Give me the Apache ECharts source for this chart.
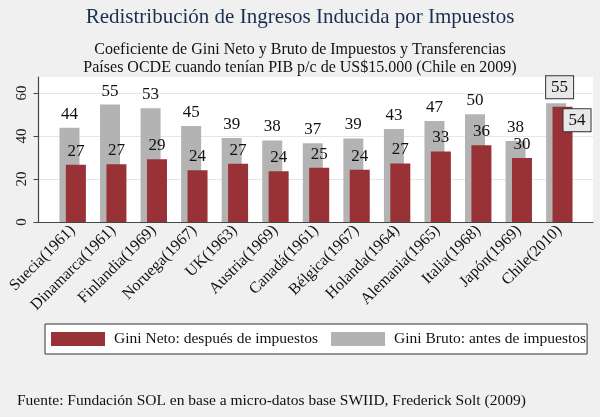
<!DOCTYPE html>
<html>
<head>
<meta charset="utf-8">
<script src="https://cdn.jsdelivr.net/npm/echarts@6/dist/echarts.min.js"></script>
<style>
html,body{margin:0;padding:0;background:#f0f0f0;}
#c{width:600px;height:417px;}
</style>
</head>
<body>
<div id="c"></div>
<script>
var categories = ['Suecia(1961)','Dinamarca(1961)','Finlandia(1969)','Noruega(1967)','UK(1963)','Austria(1969)','Canadá(1961)','Bélgica(1967)','Holanda(1964)','Alemania(1965)','Italia(1968)','Japón(1969)','Chile(2010)'];
var giniBruto = [43.8, 54.6, 52.9, 44.6, 39.1, 37.9, 36.6, 38.8, 43.2, 47.0, 50.1, 37.7, 55.2];
var giniNeto  = [26.6, 26.8, 29.2, 24.0, 27.1, 23.6, 25.2, 24.3, 27.2, 32.8, 35.7, 29.7, 53.6];
var yTicks = [0, 20, 40, 60];
var highlight = 'Chile(2010)';

var FONT = 'Liberation Serif';
var RED = '#983236';
var GREY = '#b3b3b3';
var YMAX = 67.4;

function fmt(p){ return String(Math.round(p.value)); }

var boxLabel = {
  backgroundColor: '#e8e8e8', borderColor: '#333', borderWidth: 1,
  padding: [3, 5, 2, 5]
};

var brutoData = giniBruto.map(function(v, i){
  if (categories[i] === highlight) {
    return { value: v, label: Object.assign({ position: [0, -5], align: 'left', verticalAlign: 'bottom' }, boxLabel) };
  }
  return v;
});
var netoData = giniNeto.map(function(v, i){
  if (categories[i] === highlight) {
    return { value: v, label: Object.assign({ position: [11, 2.5], align: 'left', verticalAlign: 'top' }, boxLabel) };
  }
  return v;
});

var chart = echarts.init(document.getElementById('c'), null, { renderer: 'canvas' });
chart.setOption({
  backgroundColor: '#f0f0f0',
  animation: false,
  textStyle: { fontFamily: FONT },
  title: [
    { text: 'Redistribución de Ingresos Inducida por Impuestos', left: 'center', top: 2,
      textStyle: { fontFamily: FONT, fontSize: 21, fontWeight: 'normal', color: '#1c2f4f' } },
    { text: 'Coeficiente de Gini Neto y Bruto de Impuestos y Transferencias\nPaíses OCDE cuando tenían PIB p/c de US$15.000 (Chile en 2009)',
      left: 'center', top: 36,
      textStyle: { fontFamily: FONT, fontSize: 16, fontWeight: 'normal', color: '#111', lineHeight: 17.6 } },
    { text: 'Fuente: Fundación SOL en base a micro-datos base SWIID, Frederick Solt (2009)',
      left: 12, top: 388,
      textStyle: { fontFamily: FONT, fontSize: 15.5, fontWeight: 'normal', color: '#111' } }
  ],
  legend: {
    data: ['Gini Neto: después de impuestos', 'Gini Bruto: antes de impuestos'],
    left: 45, top: 324,
    orient: 'horizontal',
    icon: 'rect', itemWidth: 54, itemHeight: 14, itemGap: 13,
    padding: [7, 1, 7, 6],
    backgroundColor: '#fff', borderColor: '#333', borderWidth: 1, borderRadius: 0,
    textStyle: { fontFamily: FONT, fontSize: 15.5, color: '#111', padding: [0, 0, 0, 4] }
  },
  grid: [
    { left: 38.5, right: 7, top: 77, bottom: 195, show: true, backgroundColor: '#fff', borderWidth: 0 },
    { left: 52.4, right: 20.4, top: 77, bottom: 195, show: false }
  ],
  xAxis: [
    { gridIndex: 0, type: 'value', min: 0, max: 1,
      axisLine: { show: true, onZero: false, lineStyle: { color: '#444', width: 1.2 } },
      axisTick: { show: false }, axisLabel: { show: false }, splitLine: { show: false } },
    { gridIndex: 1, type: 'category', data: categories,
      axisLine: { show: false }, axisTick: { show: false },
      axisLabel: { rotate: 45, interval: 0, margin: 6, fontFamily: FONT, fontSize: 16, color: '#111' } }
  ],
  yAxis: [
    { gridIndex: 0, type: 'value', min: 0, max: YMAX, interval: 20,
      axisLine: { show: true, lineStyle: { color: '#444', width: 1.2 } },
      axisTick: { show: true, length: 5, customValues: yTicks, lineStyle: { color: '#444' } },
      axisLabel: { rotate: 90, margin: 9, customValues: yTicks, fontFamily: FONT, fontSize: 15, color: '#222' },
      splitLine: { show: true, lineStyle: { color: '#e6e6e6', width: 1 } } },
    { gridIndex: 1, type: 'value', min: 0, max: YMAX, show: false, splitLine: { show: false } }
  ],
  series: [
    { name: 'Gini Bruto: antes de impuestos', type: 'bar', xAxisIndex: 1, yAxisIndex: 1,
      data: brutoData, barWidth: 20, barGap: '-68%',
      itemStyle: { color: GREY },
      label: { show: true, position: 'top', distance: 5, fontFamily: FONT, fontSize: 17, color: '#111', formatter: fmt } },
    { name: 'Gini Neto: después de impuestos', type: 'bar', xAxisIndex: 1, yAxisIndex: 1,
      data: netoData, barWidth: 20, barGap: '-68%',
      itemStyle: { color: RED },
      label: { show: true, position: 'top', distance: 5, fontFamily: FONT, fontSize: 17, color: '#111', formatter: fmt } }
  ]
});
</script>
</body>
</html>
